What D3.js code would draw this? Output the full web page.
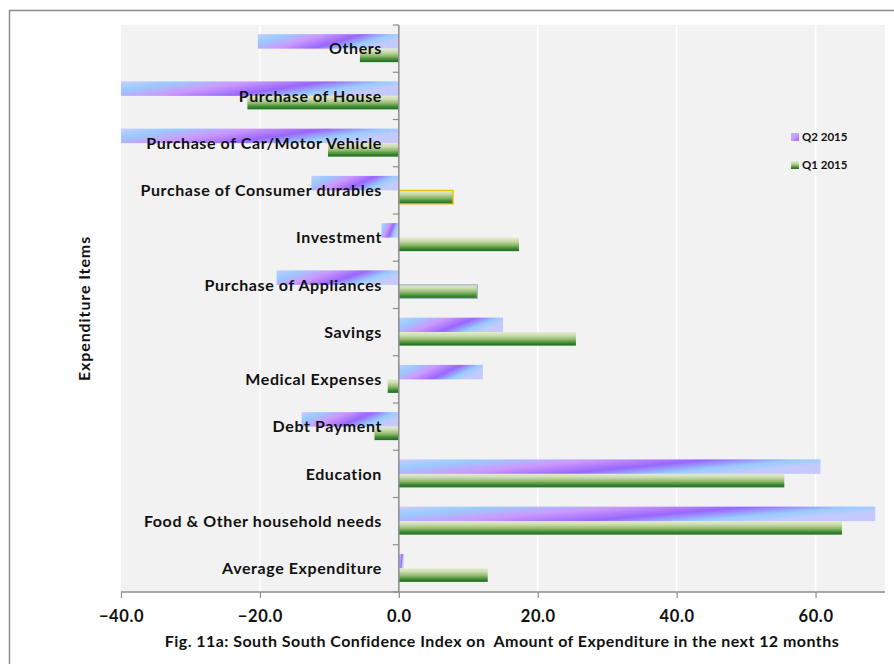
<!DOCTYPE html>
<html>
<head>
<meta charset="utf-8">
<script src="https://cdn.jsdelivr.net/npm/d3@7"></script>
<style>
  html, body { margin: 0; padding: 0; background: #fff; }
  svg { display: block; font-family: Lato, "Open Sans", sans-serif; }
</style>
</head>
<body>
<svg id="chart" width="894" height="664"></svg>
<script>
// Expenditure items, top to bottom
const categories = [
  "Others",
  "Purchase of House",
  "Purchase of Car/Motor Vehicle",
  "Purchase of Consumer durables",
  "Investment",
  "Purchase of Appliances",
  "Savings",
  "Medical Expenses",
  "Debt Payment",
  "Education",
  "Food & Other household needs",
  "Average Expenditure"
];
const q2_2015 = [-20.3, -40.0, -40.0, -12.6, -2.5, -17.6, 15.0, 12.1, -14.0, 60.7, 68.6, 0.7];
const q1_2015 = [-5.6, -21.8, -10.2, 7.8, 17.3, 11.3, 25.5, -1.6, -3.5, 55.5, 63.8, 12.8];
const seriesNames = ["Q2 2015", "Q1 2015"];
const xTicks = [-40, -20, 0, 20, 40, 60];
const xDomain = [-40, 70];

const svg = d3.select("#chart");
const W = 894, H = 664;
const plot = { left: 121, right: 885, top: 25, bottom: 592 };

// Outer frame
svg.append("path")
  .attr("d", `M9.5,${H} V10.5 H${W}`)
  .attr("fill", "none").attr("stroke", "#8c8c8c").attr("stroke-width", 1.5);

// Gradients
const defs = svg.append("defs");
const g2 = defs.append("linearGradient").attr("id", "gradQ2")
  .attr("x1", 0).attr("y1", 0).attr("x2", 1).attr("y2", 0.35);
[[0, "#cccbff"], [0.18, "#99ccff"], [0.42, "#cc99ff"], [0.66, "#9966ff"], [0.86, "#99ccff"], [1, "#c4caff"]]
  .forEach(([o, c]) => g2.append("stop").attr("offset", o).attr("stop-color", c));
const g1 = defs.append("linearGradient").attr("id", "gradQ1")
  .attr("x1", 0).attr("y1", 0).attr("x2", 0).attr("y2", 1);
[[0, "#e2ebd0"], [0.25, "#cbdcae"], [0.55, "#8fb86a"], [0.8, "#3f8a35"], [1, "#1d6b1d"]]
  .forEach(([o, c]) => g1.append("stop").attr("offset", o).attr("stop-color", c));
const gLeg2 = defs.append("linearGradient").attr("id", "legQ2")
  .attr("x1", 0).attr("y1", 0).attr("x2", 1).attr("y2", 1);
[[0, "#99ccff"], [0.5, "#cc99ff"], [1, "#9966ff"]]
  .forEach(([o, c]) => gLeg2.append("stop").attr("offset", o).attr("stop-color", c));

// Scales
const x = d3.scaleLinear().domain(xDomain).range([plot.left, plot.right]);
const y = d3.scaleBand().domain(categories).range([plot.top, plot.bottom]);

// Plot background
svg.append("rect")
  .attr("x", plot.left).attr("y", plot.top)
  .attr("width", plot.right - plot.left).attr("height", plot.bottom - plot.top)
  .attr("fill", "#f2f2f2");

// Vertical gridlines
svg.append("g").selectAll("line")
  .data(xTicks.filter(t => t !== xDomain[0] && t !== 0))
  .join("line")
  .attr("x1", d => x(d)).attr("x2", d => x(d))
  .attr("y1", plot.top).attr("y2", plot.bottom)
  .attr("stroke", "#ffffff").attr("stroke-width", 1.5);

// Bars
const barH = 14;
const bars = svg.append("g");
bars.selectAll("rect.q2")
  .data(categories.map((c, i) => ({ c, v: q2_2015[i] })))
  .join("rect").attr("class", "q2")
  .attr("x", d => x(Math.min(0, d.v)))
  .attr("width", d => Math.abs(x(d.v) - x(0)))
  .attr("y", d => y(d.c) + y.bandwidth() / 2 - barH - 0.5)
  .attr("height", barH + 0.5)
  .attr("fill", "url(#gradQ2)");
bars.selectAll("rect.q1")
  .data(categories.map((c, i) => ({ c, v: q1_2015[i] })))
  .join("rect").attr("class", "q1")
  .attr("x", d => x(Math.min(0, d.v)))
  .attr("width", d => Math.abs(x(d.v) - x(0)))
  .attr("y", d => y(d.c) + y.bandwidth() / 2)
  .attr("height", barH - 0.5)
  .attr("fill", "url(#gradQ1)");

// Outlines on two of the Q1 bars
const q1Outline = { "Purchase of Consumer durables": "#e8b800", "Purchase of Appliances": "#9fb3c8" };
bars.selectAll("rect.q1")
  .filter(d => q1Outline[d.c])
  .attr("stroke", d => q1Outline[d.c]).attr("stroke-width", 1.2);

// Category axis at zero
const yAxis = svg.append("g").attr("transform", `translate(${x(0)},0)`);
yAxis.append("line")
  .attr("x1", 0).attr("x2", 0).attr("y1", plot.top).attr("y2", plot.bottom)
  .attr("stroke", "#8c8c8c").attr("stroke-width", 1.5);
yAxis.selectAll("line.tick")
  .data(d3.range(categories.length + 1))
  .join("line").attr("class", "tick")
  .attr("x1", -6).attr("x2", 0)
  .attr("y1", i => plot.top + i * y.step()).attr("y2", i => plot.top + i * y.step())
  .attr("stroke", "#8c8c8c").attr("stroke-width", 1.2);

// Category labels, drawn above bars
svg.append("g").selectAll("text")
  .data(categories)
  .join("text")
  .attr("x", 382)
  .attr("y", d => y(d) + y.bandwidth() / 2)
  .attr("dy", "0.36em")
  .attr("text-anchor", "end")
  .attr("font-size", 16).attr("font-weight", 700).attr("fill", "#111")
  .attr("letter-spacing", 0.6)
  .text(d => d);

// Value axis
const xAxis = svg.append("g").attr("transform", `translate(0,${plot.bottom})`)
  .call(d3.axisBottom(x).tickValues(xTicks).tickSize(6).tickPadding(12)
    .tickFormat(d3.format(".1f")));
xAxis.select(".domain").attr("stroke", "#8c8c8c").attr("stroke-width", 1.5)
  .attr("d", `M${plot.left},0H${plot.right}`);
xAxis.selectAll(".tick line").attr("stroke", "#8c8c8c").attr("stroke-width", 1.2);
xAxis.selectAll(".tick text")
  .attr("font-family", "Lato, sans-serif")
  .attr("font-size", 16.5).attr("font-weight", 700).attr("fill", "#111")
  .attr("letter-spacing", 0.6);

// Axis titles
svg.append("text")
  .attr("transform", `translate(90,${(plot.top + plot.bottom) / 2}) rotate(-90)`)
  .attr("text-anchor", "middle")
  .attr("font-size", 16).attr("font-weight", 700).attr("fill", "#111")
  .attr("letter-spacing", 0.9)
  .text("Expenditure Items");
svg.append("text")
  .attr("x", 502).attr("y", 647)
  .attr("text-anchor", "middle")
  .attr("font-size", 16).attr("font-weight", 700).attr("fill", "#111")
  .attr("letter-spacing", 0.45)
  .attr("xml:space", "preserve")
  .text("Fig. 11a: South South Confidence Index on  Amount of Expenditure in the next 12 months");

// Legend
const legend = svg.append("g");
const legFills = ["url(#legQ2)", "url(#gradQ1)"];
seriesNames.forEach((name, i) => {
  const ly = 137 + i * 28;
  legend.append("rect")
    .attr("x", 791).attr("y", ly - 4).attr("width", 8).attr("height", 8)
    .attr("fill", legFills[i]);
  legend.append("text")
    .attr("x", 802).attr("y", ly).attr("dy", "0.36em")
    .attr("font-size", 11.5).attr("font-weight", 700).attr("fill", "#111")
    .text(name);
});
</script>
</body>
</html>
